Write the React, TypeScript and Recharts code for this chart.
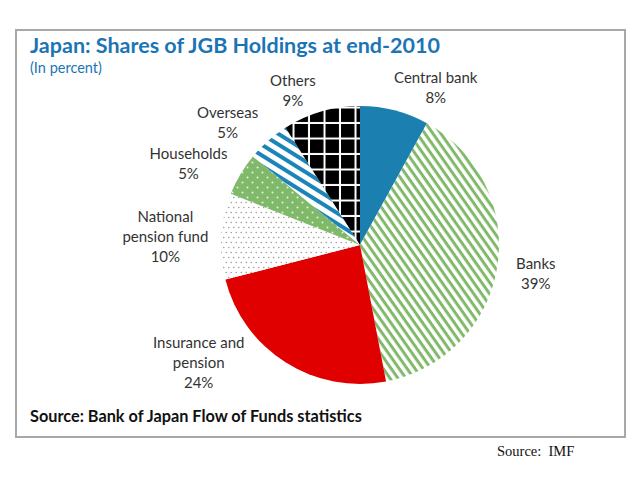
import { Cell, Pie, PieChart } from "recharts";

const categories = [
  "Central bank",
  "Banks",
  "Insurance and\npension",
  "National\npension fund",
  "Households",
  "Overseas",
  "Others",
];
const shares = [8, 39, 24, 10, 5, 5, 9];
const fills = [
  "#1b80b0",
  "url(#pBanks)",
  "#e00000",
  "url(#pNational)",
  "url(#pHouse)",
  "url(#pOverseas)",
  "url(#pOthers)",
];

// Excel-style "best fit" label positions, nudged from a plain radial spot
const labelNudge = [
  [32, 12],
  [2, 0],
  [-67, -32],
  [-19, 2],
  [-20, 8],
  [-16, 9],
  [-18, 14],
];

const rows = categories.map((name, i) => ({ name, value: shares[i] }));
const RAD = Math.PI / 180;

function SliceLabel(props: any) {
  const { cx, cy, midAngle, index, name, value } = props;
  const r = 176;
  const x = cx + r * Math.cos(-midAngle * RAD) + labelNudge[index][0];
  const y = cy + r * Math.sin(-midAngle * RAD) + labelNudge[index][1];
  const lines = [...String(name).split("\n"), `${value}%`];
  const top = y - ((lines.length - 1) * 20) / 2;
  return (
    <text
      x={x}
      y={top}
      textAnchor="middle"
      dominantBaseline="central"
      fill="#333"
      fontSize={15}
      fontFamily="Lato, sans-serif"
    >
      {lines.map((l, k) => (
        <tspan key={k} x={x} y={top + k * 20}>
          {l}
        </tspan>
      ))}
    </text>
  );
}

export default function App() {
  return (
    <div
      style={{
        position: "absolute",
        left: 0,
        top: 0,
        width: 640,
        height: 485,
        background: "#fff",
        fontFamily: "Lato, sans-serif",
      }}
    >
      <div
        style={{
          position: "absolute",
          left: 15,
          top: 29,
          width: 607,
          height: 405,
          border: "2px solid #a8a8a8",
        }}
      />
      <div
        style={{
          position: "absolute",
          left: 30,
          top: 34,
          fontSize: 21.5,
          lineHeight: "22px",
          fontWeight: 700,
          color: "#1b75b5",
          whiteSpace: "nowrap",
        }}
      >
        Japan: Shares of JGB Holdings at end-2010
      </div>
      <div
        style={{
          position: "absolute",
          left: 30,
          top: 60,
          fontSize: 14.5,
          lineHeight: "15px",
          color: "#1b75b5",
        }}
      >
        (In percent)
      </div>
      <div
        style={{
          position: "absolute",
          left: 30,
          top: 406,
          fontSize: 16.3,
          fontWeight: 700,
          color: "#111",
          whiteSpace: "nowrap",
        }}
      >
        Source: Bank of Japan Flow of Funds statistics
      </div>
      <div
        style={{
          position: "absolute",
          left: 497,
          top: 443,
          fontSize: 14.5,
          fontFamily: "'Liberation Serif', serif",
          color: "#111",
          whiteSpace: "nowrap",
        }}
      >
        Source:&nbsp; IMF
      </div>
      <div style={{ position: "absolute", left: 0, top: 0 }}>
        <PieChart
          width={640}
          height={485}
          margin={{ top: 0, right: 0, bottom: 0, left: 0 }}
        >
          <defs>
            <pattern
              id="pBanks"
              width={8}
              height={6.5}
              patternUnits="userSpaceOnUse"
              patternTransform="rotate(55)"
            >
              <rect width={8} height={6.5} fill="#fff" />
              <rect width={8} height={3} fill="#80b96a" />
            </pattern>
            <pattern
              id="pOverseas"
              width={10}
              height={9}
              patternUnits="userSpaceOnUse"
              patternTransform="rotate(32)"
            >
              <rect width={10} height={9} fill="#fff" />
              <rect width={10} height={4} fill="#1b84b8" />
            </pattern>
            <pattern
              id="pOthers"
              width={15.5}
              height={15.5}
              patternUnits="userSpaceOnUse"
            >
              <rect width={15.5} height={15.5} fill="#fff" />
              <rect width={13.5} height={13.5} fill="#000" />
            </pattern>
            <pattern
              id="pNational"
              width={5}
              height={10}
              patternUnits="userSpaceOnUse"
            >
              <rect width={5} height={10} fill="#fff" />
              <circle cx={1.25} cy={2.5} r={0.8} fill="#a0a0a0" />
              <circle cx={3.75} cy={7.5} r={0.8} fill="#a0a0a0" />
            </pattern>
            <pattern
              id="pHouse"
              width={10}
              height={10}
              patternUnits="userSpaceOnUse"
            >
              <rect width={10} height={10} fill="#80b96a" />
              <circle cx={2.5} cy={2.5} r={1} fill="#e8f3e2" />
              <circle cx={7.5} cy={7.5} r={1} fill="#e8f3e2" />
            </pattern>
          </defs>
          <Pie
            data={rows}
            dataKey="value"
            nameKey="name"
            cx={360}
            cy={245}
            outerRadius={139}
            startAngle={90}
            endAngle={-270}
            stroke="none"
            label={SliceLabel}
            labelLine={false}
            isAnimationActive={false}
          >
            {rows.map((r, i) => (
              <Cell key={r.name} fill={fills[i]} />
            ))}
          </Pie>
        </PieChart>
      </div>
    </div>
  );
}
